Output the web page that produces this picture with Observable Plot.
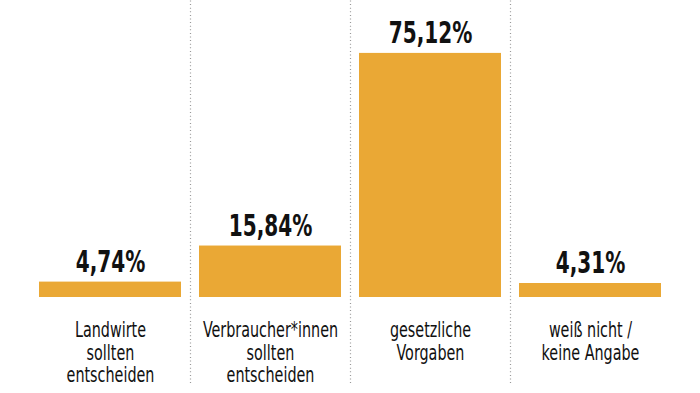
<!DOCTYPE html>
<html>
<head>
<meta charset="utf-8">
<script src="https://cdn.jsdelivr.net/npm/d3@7"></script>
<script src="https://cdn.jsdelivr.net/npm/@observablehq/plot@0.6"></script>
<style>
  html, body { margin: 0; padding: 0; background: #fff; }
  #chart svg { display: block; }
</style>
</head>
<body>
<div id="chart"></div>
<script>
const categories = [
  "Landwirte\nsollten\nentscheiden",
  "Verbraucher*innen\nsollten\nentscheiden",
  "gesetzliche\nVorgaben",
  "weiß nicht /\nkeine Angabe"
];
const values = [4.74, 15.84, 75.12, 4.31];
const separators = categories.slice(0, 3);

const data = categories.map((c, i) => ({category: c, value: values[i]}));
const fmt = v => v.toFixed(2).replace(".", ",") + "%";
const FONT = "'DejaVu Sans Condensed', 'DejaVu Sans', sans-serif";

const chart = Plot.plot({
  width: 700,
  height: 393,
  marginTop: 0,
  marginBottom: 96,
  marginLeft: 0,
  marginRight: 0,
  style: {fontFamily: FONT, background: "#fff"},
  x: {domain: categories, range: [38, 661], paddingInner: 0.115, paddingOuter: 0, axis: null},
  y: {domain: [0, 91.4], axis: null},
  marks: [
    Plot.ruleX(separators, {x: d => d, dx: 80, y1: -26.5, y2: 91.4, stroke: "#999", strokeWidth: 1.2, strokeDasharray: "1 2.6"}),
    Plot.barY(data, {x: "category", y: "value", fill: "#EAA835"}),
    Plot.text(data, {x: "category", y: "value", text: d => fmt(d.value), dy: -10, lineAnchor: "bottom", fontSize: 31, fontWeight: "bold", fill: "#111", className: "vlabel"}),
    Plot.text(data, {x: "category", y: 0, text: "category", dy: 24, lineAnchor: "top", fontSize: 21, lineHeight: 1.07, fill: "#111", className: "clabel"})
  ]
});
// horizontally condense the text to mimic the narrow typeface of the original
d3.select(chart).selectAll(".vlabel text").attr("transform", function() {
  return (this.getAttribute("transform") || "") + " scale(0.72,1)";
});
d3.select(chart).selectAll(".clabel text").attr("transform", function() {
  return (this.getAttribute("transform") || "") + " scale(0.76,1)";
});
document.getElementById("chart").appendChild(chart);
</script>
</body>
</html>
